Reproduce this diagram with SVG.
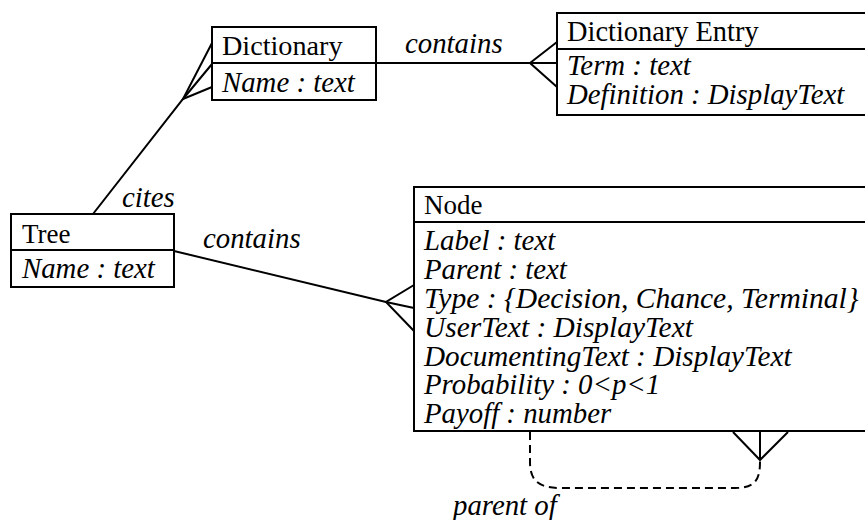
<svg xmlns="http://www.w3.org/2000/svg" width="865" height="520" viewBox="0 0 865 520">
<style>
.box{fill:#fff;stroke:#000;stroke-width:2}
.ln{fill:none;stroke:#000;stroke-width:2}
.dash{fill:none;stroke:#000;stroke-width:2;stroke-dasharray:8,5}
</style>
<rect width="865" height="520" fill="#fff"/>
<g id="connectors">
  <line class="ln" x1="376" y1="63" x2="557" y2="63"/>
  <polyline class="ln" points="557,42 530,63 557,87"/>
  <polyline class="ln" points="93,214 183,99 212,64"/>
  <polyline class="ln" points="212,43 183,99 212,87"/>
  <polyline class="ln" points="174,251 386,302 414,308"/>
  <polyline class="ln" points="414,285 386,302 414,331"/>
  <path class="dash" d="M530,432 L530,462 C530,480 538,488 560,488 L735,488 C755,488 760,480 760,462 L760,458"/>
  <polyline class="ln" points="733,432 760,460 788,432"/>
  <line class="ln" x1="760" y1="432" x2="760" y2="460"/>
  <text x="405" y="53" font-family="Liberation Serif" font-style="italic" font-size="28.8">contains</text>
  <text x="122" y="207" font-family="Liberation Serif" font-style="italic" font-size="28.8">cites</text>
  <text x="203" y="248" font-family="Liberation Serif" font-style="italic" font-size="28.8">contains</text>
  <text x="453" y="515" font-family="Liberation Serif" font-style="italic" font-size="28.8">parent of</text>
</g>
<g id="dictionary">
  <rect class="box" x="212" y="27" width="164" height="73"/>
  <line class="ln" x1="212" y1="63" x2="376" y2="63"/>
  <text x="222" y="55" font-family="Liberation Serif" font-size="28.2">Dictionary</text>
  <text x="222" y="92" font-family="Liberation Serif" font-size="28.8" font-style="italic">Name : text</text>
</g>
<g id="dictionary-entry">
  <rect class="box" x="557" y="13" width="320" height="102"/>
  <line class="ln" x1="557" y1="49" x2="877" y2="49"/>
  <text x="567" y="41" font-family="Liberation Serif" font-size="28.4">Dictionary Entry</text>
  <text x="567" y="75" font-family="Liberation Serif" font-size="28.8" font-style="italic">Term : text</text>
  <text x="567" y="104" font-family="Liberation Serif" font-size="28.8" font-style="italic">Definition : DisplayText</text>
</g>
<g id="tree">
  <rect class="box" x="11" y="214" width="163" height="73"/>
  <line class="ln" x1="11" y1="250" x2="174" y2="250"/>
  <text x="22" y="243" font-family="Liberation Serif" font-size="27">Tree</text>
  <text x="22" y="278" font-family="Liberation Serif" font-size="28.8" font-style="italic">Name : text</text>
</g>
<g id="node">
  <rect class="box" x="414" y="187" width="463" height="244"/>
  <line class="ln" x1="414" y1="222" x2="877" y2="222"/>
  <text x="424" y="214" font-family="Liberation Serif" font-size="27">Node</text>
  <text x="424" y="250" font-family="Liberation Serif" font-size="28.8" font-style="italic">Label : text</text>
  <text x="424" y="279" font-family="Liberation Serif" font-size="28.8" font-style="italic">Parent : text</text>
  <text x="424" y="308" font-family="Liberation Serif" font-size="29.6" font-style="italic">Type : {Decision, Chance, Terminal}</text>
  <text x="424" y="337" font-family="Liberation Serif" font-size="29.4" font-style="italic">UserText : DisplayText</text>
  <text x="424" y="366" font-family="Liberation Serif" font-size="29.2" font-style="italic">DocumentingText : DisplayText</text>
  <text x="424" y="394" font-family="Liberation Serif" font-size="28.8" font-style="italic">Probability : 0&lt;p&lt;1</text>
  <text x="424" y="423" font-family="Liberation Serif" font-size="28.8" font-style="italic">Payoff : number</text>
</g>
</svg>
